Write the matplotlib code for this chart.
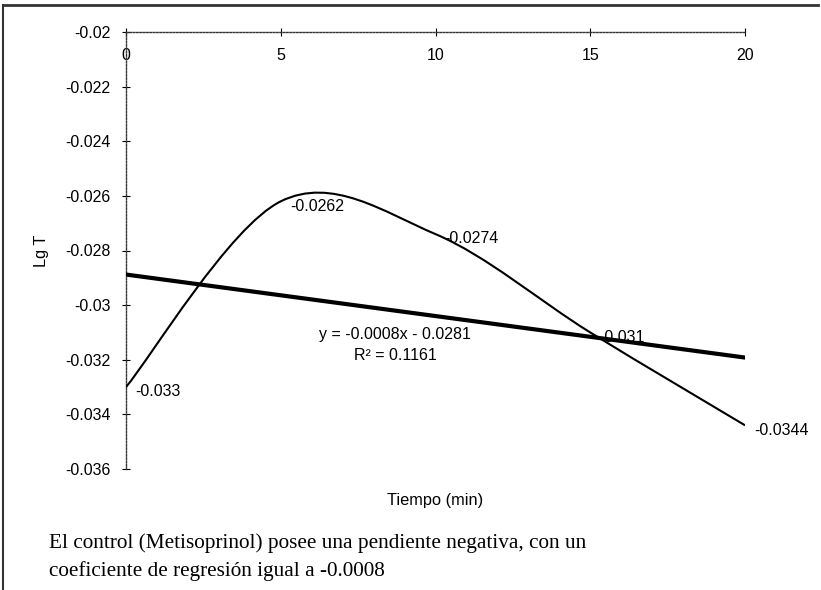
import numpy as np
import matplotlib
matplotlib.use("Agg")
import matplotlib.pyplot as plt
from matplotlib.path import Path
from matplotlib.patches import PathPatch
from matplotlib.lines import Line2D
from matplotlib.ticker import FuncFormatter

# ---- data ----
tiempo = [0, 5, 10, 15, 20]
lg_t = [-0.033, -0.0262, -0.0274, -0.031, -0.0344]
point_labels = ["-0.033", "-0.0262", "-0.0274", "-0.031", "-0.0344"]
x_ticks = [0, 5, 10, 15, 20]
y_ticks = [-0.02, -0.022, -0.024, -0.026, -0.028, -0.03, -0.032, -0.034, -0.036]
eq_text = "y = -0.0008x - 0.0281\nR\u00b2 = 0.1161"
caption_lines = [
    "El control (Metisoprinol) posee una pendiente negativa, con un",
    "coeficiente de regresión igual a -0.0008",
]

W, H = 821, 590
fig = plt.figure(figsize=(W / 100, H / 100), dpi=100)
fig.patch.set_facecolor("white")

def fx(px):
    return px / W

def fy(py):
    return 1 - py / H

ax = fig.add_axes([fx(126), fy(469), fx(745) - fx(126), fy(32) - fy(469)])
ax.set_xlim(0, 20)
ax.set_ylim(-0.036, -0.02)

sans = ["Liberation Sans", "DejaVu Sans"]
FS = 11.5

# smoothed curve (Excel-like Catmull-Rom Bezier)
x = np.array(tiempo, float)
y = np.array(lg_t, float)
P = np.column_stack([x, y])
verts = [P[0]]
codes = [Path.MOVETO]
n = len(P)
for i in range(n - 1):
    p_prev = P[i - 1] if i > 0 else P[i]
    p_next2 = P[i + 2] if i + 2 < n else P[i + 1]
    c1 = P[i] + (P[i + 1] - p_prev) / 6.0
    c2 = P[i + 1] - (p_next2 - P[i]) / 6.0
    verts += [c1, c2, P[i + 1]]
    codes += [Path.CURVE4] * 3
ax.add_patch(PathPatch(Path(verts, codes), facecolor="none", edgecolor="black",
                       lw=1.5, zorder=3))

# linear trendline
m, b = np.polyfit(x, y, 1)
xt = np.array([0, 20])
ax.plot(xt, m * xt + b, color="black", lw=3.0, zorder=4)

# data labels
for xi, yi, lab in zip(tiempo, lg_t, point_labels):
    ax.annotate(lab, (xi, yi), xytext=(6.5, -3.5), textcoords="offset points",
                ha="left", va="center", fontsize=FS, family=sans, zorder=5)

ax.text(0.435, 0.284, eq_text, transform=ax.transAxes, ha="center", va="center",
        fontsize=FS, family=sans, linespacing=1.45)

# axes styling
for s in ["right", "bottom"]:
    ax.spines[s].set_visible(False)
for s in ["left", "top"]:
    ax.spines[s].set_linestyle((0, (1.2, 1.2)))
    ax.spines[s].set_color("#333333")
    ax.spines[s].set_linewidth(1.0)

ax.xaxis.tick_top()
ax.set_xticks(x_ticks)
ax.set_yticks(y_ticks)
ax.yaxis.set_major_formatter(FuncFormatter(lambda v, p: "%g" % round(v, 4)))
ax.tick_params(axis="x", direction="inout", length=6, width=0.8, pad=-25,
               labelsize=FS, colors="black")
ax.tick_params(axis="y", direction="inout", length=6, width=0.8, pad=8,
               labelsize=FS, colors="black")
for lbl in ax.get_xticklabels() + ax.get_yticklabels():
    lbl.set_family(sans)

ax.set_xlabel("Tiempo (min)", fontsize=11.8, family=sans)
ax.xaxis.set_label_position("bottom")
ax.xaxis.set_label_coords(0.5, -0.055)
ax.set_ylabel("Lg T", fontsize=11.8, family=sans)
ax.yaxis.set_label_coords(-0.125, 0.5)

# caption
serif = ["Liberation Serif", "DejaVu Serif"]
fig.text(fx(49), fy(543), caption_lines[0], ha="left", va="center",
         fontsize=15.3, family=serif)
fig.text(fx(49), fy(571), caption_lines[1], ha="left", va="center",
         fontsize=15.3, family=serif)

# outer border (left and top)
fig.add_artist(Line2D([fx(3), fx(3)], [fy(5), 0], transform=fig.transFigure,
                      color="#333333", lw=1.5))
fig.add_artist(Line2D([fx(3), fx(818)], [fy(5), fy(5)], transform=fig.transFigure,
                      color="#333333", lw=2.0))

fig.savefig("out.png", dpi=100)
